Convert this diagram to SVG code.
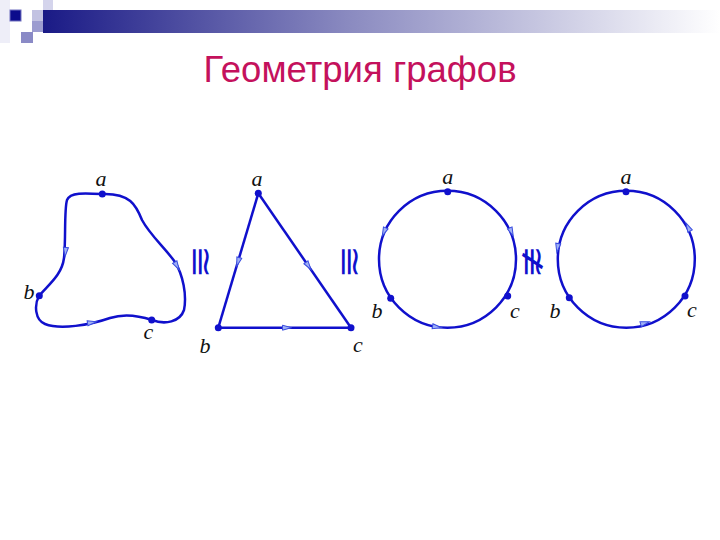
<svg xmlns="http://www.w3.org/2000/svg" width="720" height="540" viewBox="0 0 720 540">
<style>
.edge{fill:none;stroke:#1010cc;stroke-width:2.5}
.node{fill:#1010cc}
.lbl{font-family:"Liberation Serif",serif;font-style:italic;font-size:22px;fill:#111}
.rel{font-family:"DejaVu Sans",sans-serif;font-size:32px;fill:#1010cc}
.arr{fill:#9fb0f5;stroke:#3a4de0;stroke-width:1}
.title{font-family:"Liberation Sans",Arial,sans-serif;font-size:36.5px;fill:#c4115c}
</style>
<defs>
<linearGradient id="bar" x1="0" y1="0" x2="1" y2="0">
<stop offset="0" stop-color="#1a1a86"/>
<stop offset="0.45" stop-color="#8a8ac0"/>
<stop offset="1" stop-color="#ffffff"/>
</linearGradient>
<path id="ah" d="M-4.5,-2.5 L4.5,0 L-4.5,2.5 Z"/>
</defs>
<rect width="720" height="540" fill="#ffffff"/>
<g id="header">
<rect x="0" y="0" width="10" height="43" fill="#eeeef8"/>
<rect x="43" y="0" width="10" height="10" fill="#d4d4ec"/>
<rect x="32" y="10" width="11" height="11" fill="#c2c2e2"/>
<rect x="32" y="21" width="11" height="11" fill="#9c9cd0"/>
<rect x="21" y="32" width="12" height="11" fill="#8a8ac6"/>
<rect x="10" y="10" width="11" height="11" fill="#0c0c8c" stroke="#7070c0" stroke-width="1"/>
<rect x="43" y="10" width="677" height="23" fill="url(#bar)"/>
</g>
<text class="title" x="360" y="82" text-anchor="middle">Геометрия графов</text>

<g id="connectors">
<path class="edge" d="M102,194 C85,193 70,192 67,200 C64,210 66,240 64,258 C62,275 48,285 39,296 C34,305 35,320 45,324 C60,330 90,325 110,318 C125,313 140,316 152,320 C165,325 180,322 184,310 C187,295 183,275 175,262 C165,248 150,235 142,220 C136,205 130,193 102,194 Z"/>
<line class="edge" x1="258.3" y1="193.3" x2="218.3" y2="327.7"/>
<line class="edge" x1="258.3" y1="193.3" x2="351" y2="327.7"/>
<line class="edge" x1="218.3" y1="327.7" x2="351" y2="327.7"/>
<circle class="edge" cx="447.5" cy="259.2" r="68.5"/>
<circle class="edge" cx="626.3" cy="259.2" r="68.5"/>
<use href="#ah" class="arr" transform="translate(65.5,252) rotate(95)"/>
<use href="#ah" class="arr" transform="translate(177,266) rotate(60)"/>
<use href="#ah" class="arr" transform="translate(92,322.5) rotate(-10)"/>
<use href="#ah" class="arr" transform="translate(238,262) rotate(106.5)"/>
<use href="#ah" class="arr" transform="translate(308.5,266) rotate(55.4)"/>
<use href="#ah" class="arr" transform="translate(287,327.7) rotate(0)"/>
<use href="#ah" class="arr" transform="translate(384,232) rotate(113)"/>
<use href="#ah" class="arr" transform="translate(511.5,232) rotate(67)"/>
<use href="#ah" class="arr" transform="translate(437,327) rotate(9)"/>
<use href="#ah" class="arr" transform="translate(688,227) rotate(-117)"/>
<use href="#ah" class="arr" transform="translate(557.5,248) rotate(99)"/>
<use href="#ah" class="arr" transform="translate(645,323) rotate(-16)"/>
</g>

<g id="graph1">
<circle id="g1a" class="node" cx="102.3" cy="194" r="3.5"/>
<circle id="g1b" class="node" cx="39.3" cy="295.7" r="3.5"/>
<circle id="g1c" class="node" cx="151.7" cy="320" r="3.5"/>
<text class="lbl" x="101" y="186" text-anchor="middle">a</text>
<text class="lbl" x="29" y="299" text-anchor="middle">b</text>
<text class="lbl" x="148.5" y="339" text-anchor="middle">c</text>
</g>
<g id="graph2">
<circle id="g2a" class="node" cx="258.3" cy="193.3" r="3.5"/>
<circle id="g2b" class="node" cx="218.3" cy="327.7" r="3.5"/>
<circle id="g2c" class="node" cx="351" cy="327.7" r="3.5"/>
<text class="lbl" x="257" y="186" text-anchor="middle">a</text>
<text class="lbl" x="205" y="353" text-anchor="middle">b</text>
<text class="lbl" x="358" y="352" text-anchor="middle">c</text>
</g>
<g id="graph3">
<circle id="g3a" class="node" cx="447.7" cy="191.7" r="3.5"/>
<circle id="g3b" class="node" cx="390.7" cy="298.3" r="3.5"/>
<circle id="g3c" class="node" cx="507.7" cy="296" r="3.5"/>
<text class="lbl" x="447.7" y="184" text-anchor="middle">a</text>
<text class="lbl" x="377" y="318" text-anchor="middle">b</text>
<text class="lbl" x="515" y="318" text-anchor="middle">c</text>
</g>
<g id="graph4">
<circle id="g4a" class="node" cx="626" cy="191.7" r="3.5"/>
<circle id="g4b" class="node" cx="569.3" cy="297.7" r="3.5"/>
<circle id="g4c" class="node" cx="685" cy="296" r="3.5"/>
<text class="lbl" x="626" y="184" text-anchor="middle">a</text>
<text class="lbl" x="555" y="318" text-anchor="middle">b</text>
<text class="lbl" x="692" y="317" text-anchor="middle">c</text>
</g>
<g id="relations">
<text class="rel" transform="translate(201,262) rotate(90) scale(1.25,1)" text-anchor="middle" dominant-baseline="central">≅</text>
<text class="rel" transform="translate(350,262) rotate(90) scale(1.25,1)" text-anchor="middle" dominant-baseline="central">≅</text>
<text class="rel" transform="translate(533,262) rotate(90) scale(1.25,1)" text-anchor="middle" dominant-baseline="central">≇</text>
</g>
</svg>
